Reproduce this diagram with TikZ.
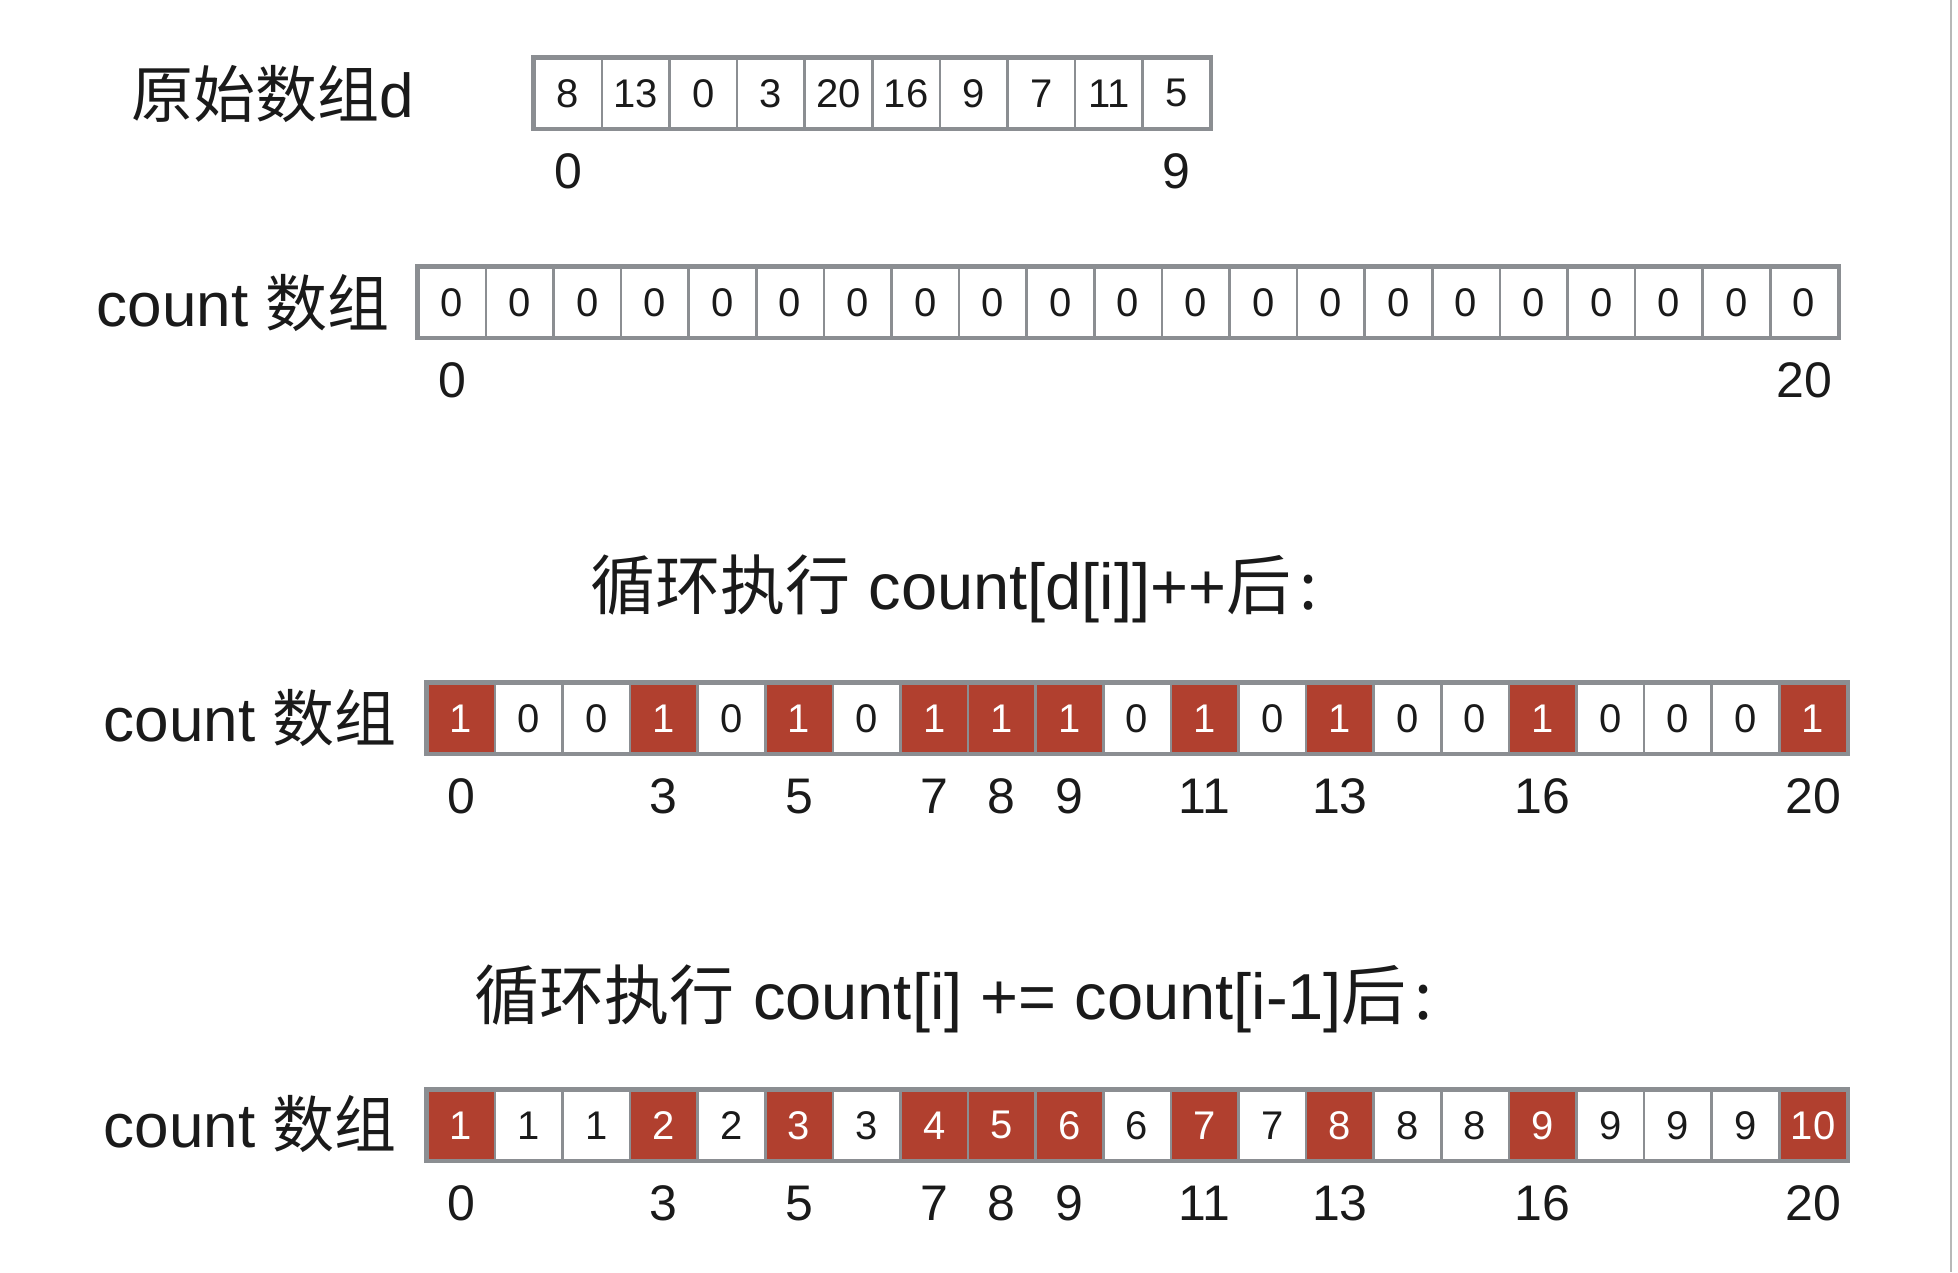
\documentclass[tikz,border=0pt]{standalone}
\usepackage{fontspec}
\setmainfont{Liberation Sans}
\newfontfamily\cjk{Noto Sans CJK SC}
\definecolor{cellred}{HTML}{B1402F}
\definecolor{cellgray}{HTML}{8B8E92}
\definecolor{ink}{HTML}{1A1A1A}
\definecolor{edgeline}{HTML}{B8B8B8}
\begin{document}
\begin{tikzpicture}[x=1pt,y=-1pt,
  cell/.style={draw=cellgray, line width=2.5pt, fill=white, minimum width=67.6pt, minimum height=70pt,
    inner sep=0pt, anchor=north west, font=\fontsize{40}{40}\selectfont, text=ink},
  hot/.style={cell, fill=cellred, text=white},
  idx/.style={font=\fontsize{50}{50}\selectfont, text=ink, inner sep=0pt},
  ttl/.style={font=\fontsize{62}{62}\selectfont, text=ink, inner sep=0pt},
  head/.style={font=\fontsize{65}{65}\selectfont, text=ink, inner sep=0pt},
  frame/.style={draw=cellgray, line width=3.5pt}]
\useasboundingbox (0,0) rectangle (1958,1272);
\fill[white] (0,0) rectangle (1958,1272);
\draw[edgeline, line width=2pt] (1951,0) -- (1951,1272);

% original array d
\node[ttl] (t1) at (273,94) {\cjk 原始数组\normalfont d};
\foreach \v [count=\i from 0] in {8,13,0,3,20,16,9,7,11,5}
  \node[cell] (d\i) at (533+\i*67.6,57) {\v};
\draw[frame] (d0.north west) rectangle (d9.south east);
\foreach \k in {0,9}
  \path (d\k.south) ++(0,42) node[idx] {\k};

% count array zeros
\node[ttl, anchor=east] (t2) at (390,303) {count \cjk 数组};
\foreach \i in {0,...,20}
  \node[cell] (c\i) at (417+\i*67.6,266) {0};
\draw[frame] (c0.north west) rectangle (c20.south east);
\foreach \k in {0,20}
  \path (c\k.south) ++(0,42) node[idx] {\k};

% heading 1
\node[head] (h1) at (954,589) {\cjk 循环执行\normalfont{} count[d[i]]++\cjk 后\hspace{8pt}:};

% count after ++
\node[ttl, anchor=east] (t3) at (397,718) {count \cjk 数组};
\foreach \v/\s [count=\i from 0] in {1/hot,0/cell,0/cell,1/hot,0/cell,1/hot,0/cell,1/hot,1/hot,1/hot,0/cell,1/hot,0/cell,1/hot,0/cell,0/cell,1/hot,0/cell,0/cell,0/cell,1/hot}
  \node[\s] (e\i) at (426+\i*67.6,682) {\v};
\draw[frame] (e0.north west) rectangle (e20.south east);
\foreach \k in {0,3,5,7,8,9,11,13,16,20}
  \path (e\k.south) ++(0,42) node[idx] {\k};

% heading 2
\node[head] (h2) at (954,999) {\cjk 循环执行\normalfont{} count[i] += count[i-1]\cjk 后\hspace{8pt}:};

% count after prefix sum
\node[ttl, anchor=east] (t4) at (397,1124) {count \cjk 数组};
\foreach \v/\s [count=\i from 0] in {1/hot,1/cell,1/cell,2/hot,2/cell,3/hot,3/cell,4/hot,5/hot,6/hot,6/cell,7/hot,7/cell,8/hot,8/cell,8/cell,9/hot,9/cell,9/cell,9/cell,10/hot}
  \node[\s] (f\i) at (426+\i*67.6,1089) {\v};
\draw[frame] (f0.north west) rectangle (f20.south east);
\foreach \k in {0,3,5,7,8,9,11,13,16,20}
  \path (f\k.south) ++(0,42) node[idx] {\k};
\end{tikzpicture}
\end{document}
